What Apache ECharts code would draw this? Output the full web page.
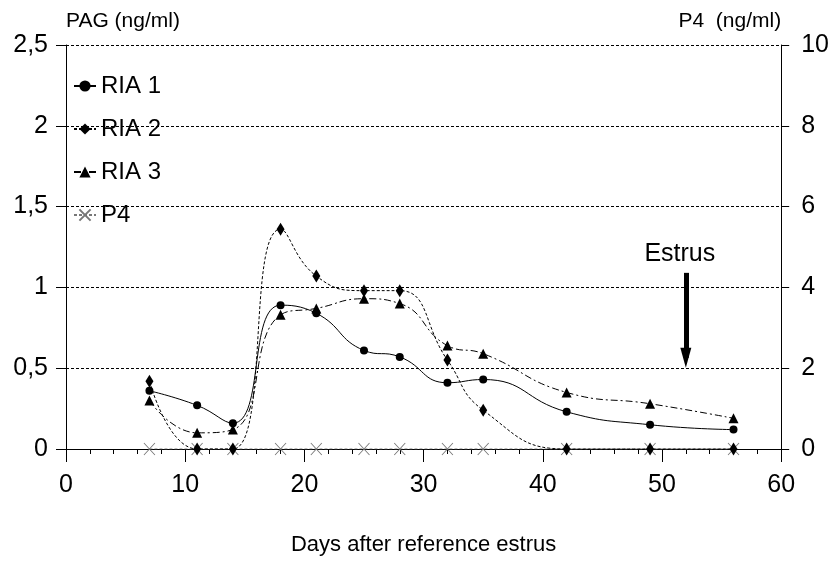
<!DOCTYPE html>
<html>
<head>
<meta charset="utf-8">
<script src="https://cdn.jsdelivr.net/npm/echarts@6/dist/echarts.min.js"></script>
<style>
html,body{margin:0;padding:0;background:#fff;}
#chart{width:832px;height:562px;}
</style>
</head>
<body>
<div id="chart"></div>
<script>
// ---- data ----
var days = [7, 11, 14, 18, 21, 25, 28, 32, 35, 42, 49, 56];
var ria1 = [0.36, 0.27, 0.16, 0.89, 0.84, 0.61, 0.57, 0.41, 0.43, 0.23, 0.15, 0.12];
var ria2 = [0.42, 0.00, 0.00, 1.36, 1.07, 0.98, 0.98, 0.55, 0.24, 0.00, 0.00, 0.00];
var ria3 = [0.30, 0.10, 0.12, 0.83, 0.87, 0.93, 0.90, 0.64, 0.59, 0.35, 0.28, 0.19];
var p4   = [0, 0, 0, 0, 0, 0, 0, 0, 0, 0, 0, 0];
var seriesNames = ['RIA 1', 'RIA 2', 'RIA 3', 'P4'];
var estrusDay = [52];
var estrusArrow = [1.09, 0.565]; // start value, arrow-head centre value
var estrusLabel = ['Estrus'];
var xTitle = 'Days after reference estrus';
var yLeftTitle = 'PAG (ng/ml)';
var yRightTitle = 'P4  (ng/ml)';

function pairs(vals){ return days.map(function(d,i){ return [d, vals[i]]; }); }
var FONT = "'Liberation Sans', Arial, sans-serif";
var chart = echarts.init(document.getElementById('chart'), null, {renderer:'canvas'});

var option = {
  animation: false,
  backgroundColor: '#fff',
  textStyle: {fontFamily: FONT, color: '#000'},
  grid: {left: 66, right: 49, top: 45, bottom: 113, containLabel: false},
  legend: {
    orient: 'vertical', left: 68, top: 69,
    itemWidth: 22, itemHeight: 14, itemGap: 19,
    data: seriesNames,
    textStyle: {fontFamily: FONT, fontSize: 24, color: '#000', lineHeight: 24}
  },
  xAxis: {
    type: 'value', min: 0, max: 60, interval: 10,
    name: xTitle, nameLocation: 'middle', nameGap: 85,
    nameTextStyle: {fontFamily: FONT, fontSize: 22, color: '#000'},
    axisLine: {show: true, onZero: false, lineStyle: {color: '#000', width: 1}},
    axisTick: {show: true, length: 13, lineStyle: {color: '#000'}},
    minorTick: {show: true, splitNumber: 5, length: 5, lineStyle: {color: '#000'}},
    axisLabel: {fontFamily: FONT, fontSize: 25, color: '#000', margin: 24},
    splitLine: {show: false}
  },
  yAxis: [{
    type: 'value', min: 0, max: 2.5, interval: 0.5, position: 'left',
    name: yLeftTitle, nameLocation: 'end', nameGap: 13,
    nameTextStyle: {fontFamily: FONT, fontSize: 21, color: '#000', align: 'left'},
    axisLine: {show: true, lineStyle: {color: '#000', width: 1}},
    axisTick: {show: true, length: 10, lineStyle: {color: '#000'}},
    axisLabel: {fontFamily: FONT, fontSize: 25, color: '#000', margin: 18,
      formatter: function(v){ return String(v).replace('.', ','); }},
    splitLine: {show: true, lineStyle: {color: '#000', width: 1, type: [3, 2]}}
  }, {
    type: 'value', min: 0, max: 10, interval: 2, position: 'right',
    name: yRightTitle, nameLocation: 'end', nameGap: 13,
    nameTextStyle: {fontFamily: FONT, fontSize: 21, color: '#000', align: 'right'},
    axisLine: {show: true, lineStyle: {color: '#000', width: 1}},
    axisTick: {show: true, length: 8, lineStyle: {color: '#000'}},
    axisLabel: {fontFamily: FONT, fontSize: 25, color: '#000', margin: 20},
    splitLine: {show: false}
  }],
  series: [{
    name: seriesNames[0], type: 'line', smooth: 0.5, data: pairs(ria1),
    symbol: 'circle', symbolSize: 8,
    itemStyle: {color: '#000'},
    lineStyle: {color: '#000', width: 1, type: 'solid'},
    z: 5,
    markLine: {
      silent: true, animation: false,
      symbol: ['none', 'triangle'],
      lineStyle: {color: '#000', width: 5, type: 'solid'},
      label: {show: true, position: 'start', formatter: estrusLabel[0],
        fontFamily: FONT, fontSize: 25, color: '#000', distance: 6, offset: [-6, 0]},
      data: [[
        {coord: [estrusDay[0], estrusArrow[0]], symbol: 'none'},
        {coord: [estrusDay[0], estrusArrow[1]], symbol: 'triangle', symbolSize: [11, 20]}
      ]]
    }
  }, {
    name: seriesNames[1], type: 'line', smooth: 0.5, data: pairs(ria2),
    symbol: 'diamond', symbolSize: [8, 13],
    itemStyle: {color: '#000'},
    lineStyle: {color: '#000', width: 1, type: [3, 2]},
    z: 4
  }, {
    name: seriesNames[2], type: 'line', smooth: 0.5, data: pairs(ria3),
    symbol: 'triangle', symbolSize: [10, 10],
    itemStyle: {color: '#000'},
    lineStyle: {color: '#000', width: 1, type: [7, 3, 2, 3]},
    z: 3
  }, {
    name: seriesNames[3], type: 'line', yAxisIndex: 1, data: pairs(p4),
    symbol: 'path://M0,0L10,12M10,0L0,12', symbolSize: [11, 12],
    itemStyle: {color: 'rgba(0,0,0,0)', borderColor: '#777', borderWidth: 1},
    lineStyle: {color: '#777', width: 1, type: [3, 2]},
    z: 2
  }]
};
chart.setOption(option);
</script>
</body>
</html>
